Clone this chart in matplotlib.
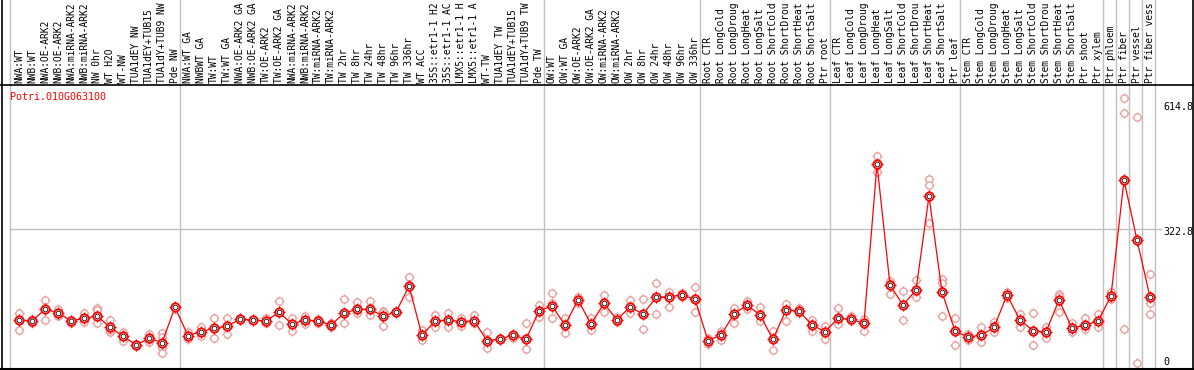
import matplotlib.pyplot as plt
from matplotlib.lines import Line2D

title = 'Potri.010G063100'

# sample names as far as the reference shows them (cut at 14 characters)
labels = [
    'NWA:WT', 'NWB:WT', 'NWA:OE-ARK2', 'NWB:OE-ARK2', 'NWA:miRNA-ARK2', 'NWB:miRNA-ARK2',
    'NW 0hr', 'WT H2O', 'WT-NW', 'TUA1dEY NW', 'TUA1dEY+TUB15', 'TUA1dY+TUB9 NW', 'Pde NW',
    'NWA:WT GA', 'NWBWT GA', 'TW:WT', 'TW:WT GA', 'NWA:OE-ARK2 GA', 'NWB:OE-ARK2 GA',
    'TW:OE-ARK2', 'TW:OE-ARK2 GA', 'NWA:miRNA-ARK2', 'NWB:miRNA-ARK2', 'TW:miRNA-ARK2',
    'TW:miRNA-ARK2', 'TW 2hr', 'TW 8hr', 'TW 24hr', 'TW 48hr', 'TW 96hr', 'TW 336hr',
    'WT ACC', '35S::etr1-1 H2', '35S::etr1-1 AC', 'LMX5::etr1-1 H', 'LMX5::etr1-1 A',
    'WT-TW', 'TUA1dEY TW', 'TUA1dEY+TUB15', 'TUA1dY+TUB9 TW', 'Pde TW',
    'OW:WT', 'OW:WT GA', 'OW:OE-ARK2', 'OW:OE-ARK2 GA', 'OW:miRNA-ARK2', 'OW:miRNA-ARK2',
    'OW 2hr', 'OW 8hr', 'OW 24hr', 'OW 48hr', 'OW 96hr', 'OW 336hr',
    'Root CTR', 'Root LongCold', 'Root LongDroug', 'Root LongHeat', 'Root LongSalt',
    'Root ShortCold', 'Root ShortDrou', 'Root ShortHeat', 'Root ShortSalt', 'Ptr root',
    'Leaf CTR', 'Leaf LongCold', 'Leaf LongDroug', 'Leaf LongHeat', 'Leaf LongSalt',
    'Leaf ShortCold', 'Leaf ShortDrou', 'Leaf ShortHeat', 'Leaf ShortSalt', 'Ptr leaf',
    'Stem CTR', 'Stem LongCold', 'Stem LongDroug', 'Stem LongHeat', 'Stem LongSalt',
    'Stem ShortCold', 'Stem ShortDrou', 'Stem ShortHeat', 'Stem ShortSalt', 'Ptr shoot',
    'Ptr xylem', 'Ptr phloem', 'Ptr fiber', 'Ptr vessel', 'Ptr fiber vess',
]

# number of samples in each block between the grey separators
group_sizes = [13, 28, 12, 10, 10, 11, 1, 1, 1, 1]

means = [
    111.5, 109.2, 136.3, 128.5, 109.2, 115.3, 120.8, 94.5, 74.3, 53.4, 68.9, 58.8, 140.9,
    75.1, 84.4, 92.1, 97.5, 113.0, 111.5, 109.2, 129.3, 102.2, 111.5, 109.2, 99.9, 127.0,
    136.3, 136.3, 120.8, 129.3, 190.4, 75.9, 109.2, 111.5, 107.6, 110.0, 63.5, 66.6, 76.7,
    66.6, 132.4,
    144.0, 99.9, 157.9, 102.2, 150.2, 111.5, 142.4, 124.6, 164.1, 165.7, 169.5, 159.5,
    63.5, 76.7, 125.4, 146.3, 123.1, 66.6, 134.7, 132.4, 99.9, 84.4,
    115.3, 113.0, 103.7, 473.7, 192.7, 146.3, 181.1, 399.4, 176.5, 85.9,
    72.0, 75.8, 94.4, 169.5, 111.4, 86.7, 83.6, 157.9, 92.9, 99.1, 109.1,
    167.2, 436.6, 297.2, 164.9,
]

reps = [
    [128.5, 88.2, 111.5], [113.0, 105.3, 109.2], [157.9, 111.5, 136.3], [136.3, 120.8, 128.5],
    [111.5, 103.7, 112.0], [127.0, 111.5, 107.6], [138.6, 134.7, 105.3], [111.5, 84.4, 88.2],
    [84.4, 63.5, 74.3], [55.8, 51.1, 53.4], [79.0, 61.2, 66.6], [80.5, 72.8, 45.7, 34.1],
    [140.9],
    [84.4, 66.6, 75.1], [96.0, 75.1, 84.4], [115.3, 68.9, 92.1], [115.3, 79.0, 97.5],
    [115.3, 111.5, 113.0], [111.5], [115.3, 105.3, 109.2], [156.4, 99.9, 129.3],
    [115.3, 86.7, 102.2], [120.8, 102.2, 111.5], [113.0, 103.7, 109.2], [103.7, 96.0, 99.9],
    [159.5, 105.3, 127.0], [152.5, 128.5, 136.3], [155.6, 123.1, 136.3], [133.2, 97.5, 130.8],
    [129.3], [210.6, 165.7, 190.4], [88.2, 65.0, 75.9], [123.1, 94.5, 109.2],
    [128.5, 94.5, 111.5], [115.3, 97.5, 107.6], [123.1, 103.7, 110.0], [84.4, 47.2, 63.5],
    [66.6], [76.7, 68.9, 76.7], [103.7, 43.4, 66.6], [146.3, 117.7, 132.4],
    [175.0, 115.3, 151.7], [115.3, 80.5, 99.9], [165.7, 150.0], [115.3, 88.2, 102.2],
    [169.5, 130.8, 150.2], [119.2, 107.6, 111.5], [157.9, 128.5, 142.4], [159.5, 89.8, 124.6],
    [198.2, 124.6, 164.1], [177.3, 142.4, 165.7], [175.0, 165.7, 169.5], [187.3, 129.3, 159.5],
    [68.9, 55.8, 63.5], [86.7, 65.0, 76.7], [138.6, 103.7, 125.4], [155.6, 136.3, 146.3],
    [140.9, 109.9, 123.1], [85.9, 41.8, 66.6], [148.6, 109.9, 134.7], [138.6, 127.0, 132.4],
    [111.5, 86.7, 99.9], [97.5, 66.6, 84.4],
    [138.6, 102.2, 115.3], [120.8, 109.9, 113.0], [113.0, 86.7, 103.7], [492.3, 455.1, 473.7],
    [202.0, 171.8, 192.7], [178.8, 111.4, 146.3], [204.3, 164.1, 181.1], [438.1, 424.2, 335.9],
    [206.7, 198.1, 120.7], [115.3, 53.4, 85.9],
    [65.0, 72.0, 79.0], [96.0, 59.6, 75.8], [106.0, 84.3, 94.4], [161.8, 169.5, 177.2],
    [125.4, 96.0, 111.4], [126.9, 52.6, 86.7], [94.4, 68.9, 83.6], [171.8, 167.0, 129.2],
    [103.7, 84.3, 92.9], [115.3, 89.8, 99.1], [125.4, 94.4, 109.1],
    [177.3, 167.2, 160.0], [626.2, 591.4, 90.5], [582.1, 10.8], [218.3, 151.7, 124.6],
]

ytick_vals = [614.8, 322.8, 0]
ymax = 657.2

W, H = 1194, 370
fig = plt.figure(figsize=(W / 100, H / 100), dpi=100)
plt.rcParams['font.family'] = 'DejaVu Sans Mono'

# plot area in pixels: x 10..1155, y 85..368
ax = fig.add_axes([10 / W, (H - 368) / H, 1145 / W, 283 / H])
ax.set_xlim(-9 / 13, 87 + 5 / 13)
ax.set_ylim(0, ymax)
ax.axis('off')

grey = '#c0c0c0'
ext = 1 + 85 / 283
ax.axvline(-9 / 13, 0, ext, color=grey, lw=1, clip_on=False)
pos = 0
for g in group_sizes:
    pos += g
    ax.axvline(pos - 1 + 5 / 13, 0, ext, color=grey, lw=1, clip_on=False)
ax.axhline(322.8, 0, 1151 / 1145, color=grey, lw=1, clip_on=False)

# frame lines
fig.add_artist(Line2D([1.5 / W, 1.5 / W], [0, 1], color='black', lw=1.2))
fig.add_artist(Line2D([1192.5 / W, 1192.5 / W], [0, 1], color='black', lw=1.2))
fig.add_artist(Line2D([0, 1], [(H - 85) / H] * 2, color='black', lw=1.2))
fig.add_artist(Line2D([0, 1], [(H - 368.5) / H] * 2, color='black', lw=1.5))

pink = '#e8a0a0'
red = '#ff0000'
for i, r in enumerate(reps):
    xs = [i] * len(r)
    ax.plot(xs, r, ls='none', marker='+', ms=7.5, mew=0.9, color=pink, zorder=2)
    ax.plot(xs, r, ls='none', marker='o', ms=5.2, mfc='white', mec=pink, mew=1.0, zorder=2)

x = list(range(len(means)))
ax.plot(x, means, color=red, lw=0.9, zorder=3)
ax.plot(x, means, ls='none', marker='+', ms=8, mew=1.0, color=red, zorder=4)
ax.plot(x, means, ls='none', marker='o', ms=6, mfc='white', mec=red, mew=1.3, zorder=4)
ax.plot(x, means, ls='none', marker='o', ms=3.4, mfc='none', mec='black', mew=0.6, zorder=5)

for i, lab in enumerate(labels):
    ax.annotate(lab, xy=(i, 1), xycoords=('data', 'axes fraction'), xytext=(0, 2),
                textcoords='offset pixels', rotation=90, ha='center', va='bottom',
                fontsize=6.9, color='black', annotation_clip=False)

ax.annotate(title, xy=(0, 1), xycoords='axes fraction', xytext=(0, -12),
            textcoords='offset pixels', ha='left', va='center', fontsize=7.2, color=red)

offsets = [-4, -3, 6]
for v, off in zip(ytick_vals, offsets):
    lab = '0' if v == 0 else f'{v:.1f}'
    ax.annotate(lab, xy=(1153 / 1145, v), xycoords=('axes fraction', 'data'),
                xytext=(0, off), textcoords='offset pixels', ha='left', va='center',
                fontsize=7.2, color='black', annotation_clip=False)

fig.savefig('out.png', dpi=100)
